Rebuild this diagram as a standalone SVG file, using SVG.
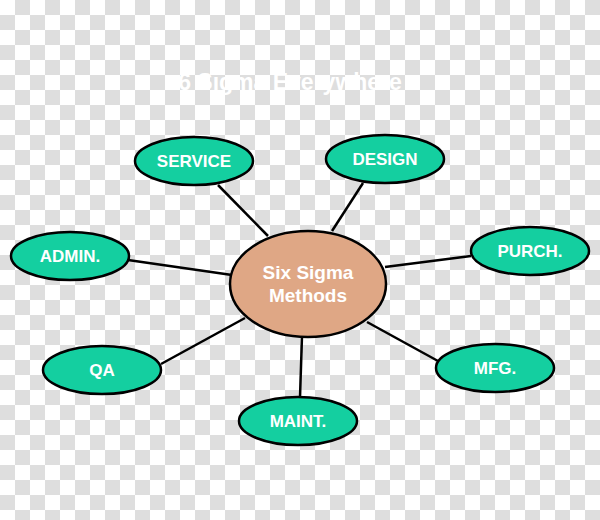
<svg xmlns="http://www.w3.org/2000/svg" width="600" height="520" viewBox="0 0 600 520">
<defs>
<pattern id="checker" x="0" y="0" width="30" height="30" patternUnits="userSpaceOnUse">
<rect x="0" y="0" width="30" height="30" fill="#ffffff"/>
<rect x="15" y="0" width="15" height="15" fill="#dedede"/>
<rect x="0" y="15" width="15" height="15" fill="#dedede"/>
</pattern>
<style>
.node ellipse{fill:#14cfa0;stroke:#000;stroke-width:2.5}
.center ellipse{fill:#dfa785;stroke:#000;stroke-width:2.5}
.lbl{font-family:"Liberation Sans",Arial,sans-serif;font-weight:bold;font-size:17px;fill:#fff;text-anchor:middle}
.clbl{font-family:"Liberation Sans",Arial,sans-serif;font-weight:bold;font-size:19px;fill:#fff;text-anchor:middle}
.title{font-family:"Liberation Sans",Arial,sans-serif;font-weight:bold;font-size:23px;fill:#fff;text-anchor:middle}
#connectors line{stroke:#000;stroke-width:2.5}
</style>
</defs>
<rect x="0" y="0" width="600" height="520" fill="url(#checker)"/>
<text class="title" x="290" y="90">6 Sigma Everywhere</text>
<g id="connectors">
<line x1="218" y1="185" x2="268" y2="236"/>
<line x1="128" y1="260" x2="232" y2="275"/>
<line x1="363" y1="183" x2="332" y2="231"/>
<line x1="471" y1="256" x2="385" y2="267"/>
<line x1="161" y1="364" x2="245" y2="318"/>
<line x1="302" y1="336" x2="300" y2="397"/>
<line x1="367" y1="322" x2="438" y2="361"/>
</g>
<g id="center" class="center">
<ellipse cx="308" cy="284" rx="78" ry="53"/>
<text class="clbl" x="308" y="279">Six Sigma</text>
<text class="clbl" x="308" y="302">Methods</text>
</g>
<g id="service" class="node">
<ellipse cx="194" cy="161" rx="59" ry="24"/>
<text class="lbl" x="194" y="167">SERVICE</text>
</g>
<g id="design" class="node">
<ellipse cx="385" cy="159" rx="59" ry="24"/>
<text class="lbl" x="385" y="165">DESIGN</text>
</g>
<g id="admin" class="node">
<ellipse cx="70" cy="256" rx="59" ry="24"/>
<text class="lbl" x="70" y="262">ADMIN.</text>
</g>
<g id="purch" class="node">
<ellipse cx="530" cy="251" rx="59" ry="24"/>
<text class="lbl" x="530" y="257">PURCH.</text>
</g>
<g id="qa" class="node">
<ellipse cx="102" cy="370" rx="59" ry="24"/>
<text class="lbl" x="102" y="376">QA</text>
</g>
<g id="maint" class="node">
<ellipse cx="298" cy="421" rx="59" ry="24"/>
<text class="lbl" x="298" y="427">MAINT.</text>
</g>
<g id="mfg" class="node">
<ellipse cx="495" cy="368" rx="59" ry="24"/>
<text class="lbl" x="495" y="374">MFG.</text>
</g>
</svg>
